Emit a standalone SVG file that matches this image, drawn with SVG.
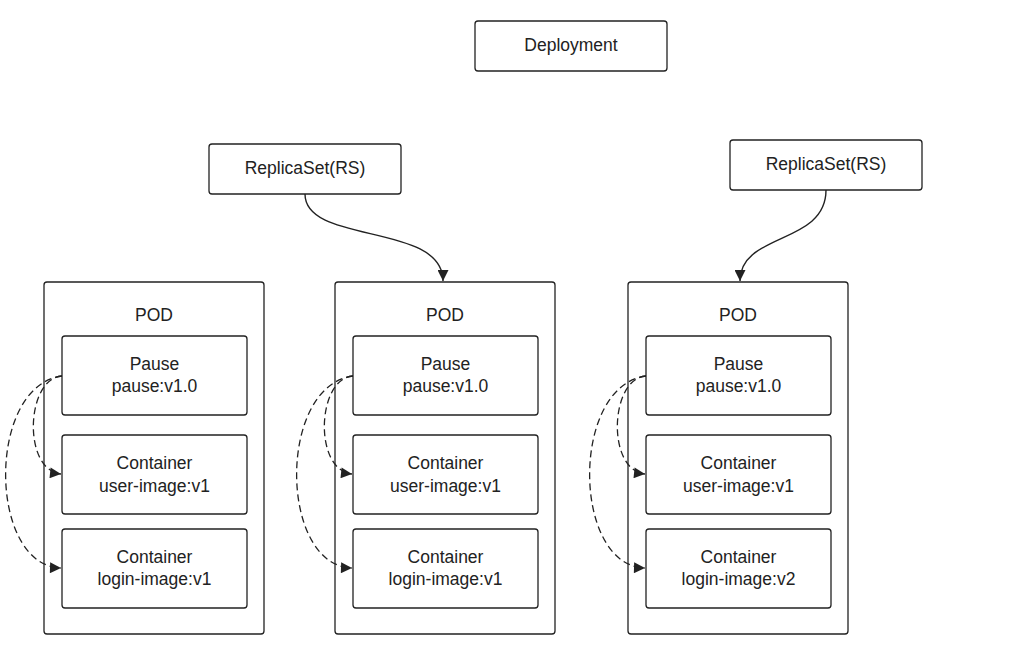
<svg xmlns="http://www.w3.org/2000/svg" width="1024" height="655" viewBox="0 0 1024 655">
<defs>
<style>
.b{fill:#fff;stroke:#222;stroke-width:1.3}
.t{font-family:"Liberation Sans",Arial,sans-serif;font-size:17.5px;fill:#222;text-anchor:middle}
.c{fill:none;stroke:#222;stroke-width:1.4}
.d{fill:none;stroke:#222;stroke-width:1.3;stroke-dasharray:7,4}
</style>
<marker id="ah" viewBox="0 0 10 10" refX="10" refY="5" markerWidth="13" markerHeight="11" markerUnits="userSpaceOnUse" orient="auto">
<path d="M0,0 L10,5 L0,10 z" fill="#222"/>
</marker>
</defs>
<rect width="1024" height="655" fill="#fff"/>
<g id="deployment"><rect class="b" x="475" y="21" width="192" height="50" rx="3"/><text class="t" x="571" y="51">Deployment</text></g>
<g id="rs1"><rect class="b" x="209" y="144" width="192" height="50" rx="3"/><text class="t" x="305" y="174">ReplicaSet(RS)</text></g>
<g id="rs2"><rect class="b" x="730" y="140" width="192" height="50" rx="3"/><text class="t" x="826" y="170">ReplicaSet(RS)</text></g>

<g id="pod1"><rect class="b" x="44" y="282" width="220" height="352" rx="3"/><text class="t" x="154" y="321">POD</text></g>
<g id="pod1-pause"><rect class="b" x="62" y="336" width="185" height="79" rx="3"/><text class="t" x="154.5" y="370">Pause</text><text class="t" x="154.5" y="392">pause:v1.0</text></g>
<g id="pod1-user"><rect class="b" x="62" y="435" width="185" height="79" rx="3"/><text class="t" x="154.5" y="469">Container</text><text class="t" x="154.5" y="492">user-image:v1</text></g>
<g id="pod1-login"><rect class="b" x="62" y="529" width="185" height="79" rx="3"/><text class="t" x="154.5" y="563">Container</text><text class="t" x="154.5" y="585">login-image:v1</text></g>

<g id="pod2"><rect class="b" x="335" y="282" width="220" height="352" rx="3"/><text class="t" x="445" y="321">POD</text></g>
<g id="pod2-pause"><rect class="b" x="353" y="336" width="185" height="79" rx="3"/><text class="t" x="445.5" y="370">Pause</text><text class="t" x="445.5" y="392">pause:v1.0</text></g>
<g id="pod2-user"><rect class="b" x="353" y="435" width="185" height="79" rx="3"/><text class="t" x="445.5" y="469">Container</text><text class="t" x="445.5" y="492">user-image:v1</text></g>
<g id="pod2-login"><rect class="b" x="353" y="529" width="185" height="79" rx="3"/><text class="t" x="445.5" y="563">Container</text><text class="t" x="445.5" y="585">login-image:v1</text></g>

<g id="pod3"><rect class="b" x="628" y="282" width="220" height="352" rx="3"/><text class="t" x="738" y="321">POD</text></g>
<g id="pod3-pause"><rect class="b" x="646" y="336" width="185" height="79" rx="3"/><text class="t" x="738.5" y="370">Pause</text><text class="t" x="738.5" y="392">pause:v1.0</text></g>
<g id="pod3-user"><rect class="b" x="646" y="435" width="185" height="79" rx="3"/><text class="t" x="738.5" y="469">Container</text><text class="t" x="738.5" y="492">user-image:v1</text></g>
<g id="pod3-login"><rect class="b" x="646" y="529" width="185" height="79" rx="3"/><text class="t" x="738.5" y="563">Container</text><text class="t" x="738.5" y="585">login-image:v2</text></g>

<g id="connectors">
<path class="c" d="M305,194 C305,245 443,222 443,281" marker-end="url(#ah)"/>
<path class="c" d="M826,190 C826,245 740,232 740,281" marker-end="url(#ah)"/>
<path class="d" d="M62,376 C26,378 22,470 61,474" marker-end="url(#ah)"/>
<path class="d" d="M62,376 C-14,386 -12,566 61,568" marker-end="url(#ah)"/>
<path class="d" d="M353,376 C317,378 313,470 352,474" marker-end="url(#ah)"/>
<path class="d" d="M353,376 C277,386 279,566 352,568" marker-end="url(#ah)"/>
<path class="d" d="M646,376 C610,378 606,470 645,474" marker-end="url(#ah)"/>
<path class="d" d="M646,376 C570,386 572,566 645,568" marker-end="url(#ah)"/>
</g>
</svg>
